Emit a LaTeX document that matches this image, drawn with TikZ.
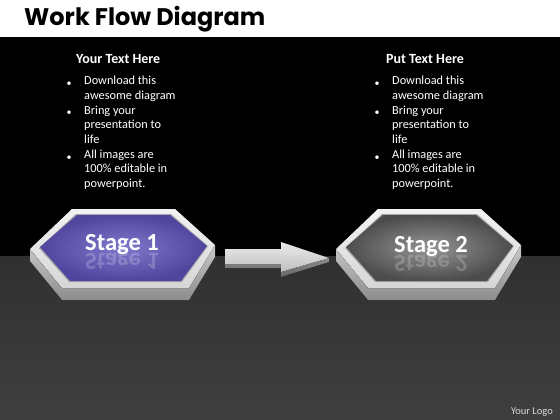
\documentclass[tikz,border=0pt]{standalone}
\usepackage{fontspec}
\setmainfont{Carlito}
\newfontfamily\titlefont{Poppins}
\definecolor{floortop}{HTML}{303030}
\definecolor{floorbot}{HTML}{3F3F3F}
\definecolor{frametop}{HTML}{F2F2F2}
\definecolor{framebot}{HTML}{D6D6D6}
\definecolor{sidec}{HTML}{B0B0B0}
\definecolor{purpin}{HTML}{8179CC}
\definecolor{purpout}{HTML}{4F459E}
\definecolor{grayin}{HTML}{959595}
\definecolor{grayout}{HTML}{4C4C4C}
\tikzset{
  head/.style={text=white, font=\fontsize{14}{16}\selectfont\bfseries, anchor=base west, inner sep=0pt},
  body/.style={text=white, font=\fontsize{12.3}{14.7}\selectfont, anchor=north west, align=left, inner sep=0pt},
  bul/.style={text=white, font=\fontsize{10}{12}\selectfont, anchor=base, inner sep=0pt},
  stagetxt/.style={text=white, font=\fontsize{24.5}{27}\selectfont\bfseries, anchor=base, inner sep=0pt},
  sideface/.style={top color=sidec!70!white, bottom color=sidec!80!black, draw=none},
  topface/.style={top color=frametop, bottom color=framebot, draw=none},
}
\newcommand{\hexblock}[3]{%
  \begin{scope}[xshift=#1pt]
    \fill[sideface] (30,249)--(62,288)--(189,288)--(215,245)--(215,257)--(189,300)--(62,300)--(30,261)--cycle;
    \fill[topface] (30,249)--(72,209)--(175,209)--(215,245)--(189,288)--(62,288)--cycle;
    \fill[black!35] (39,248)--(76,214)--(171,214)--(208,246)--(182,282)--(69,282)--cycle;
    \path[inner color=#2, outer color=#3] (40,247)--(77,215)--(170,215)--(207,246)--(181,281)--(70,281)--cycle;
  \end{scope}}
\begin{document}
\begin{tikzpicture}[x=1pt,y=-1pt]
\useasboundingbox (0,0) rectangle (560,420);
% backgrounds
\fill[white] (0,0) rectangle (560,37);
\fill[black] (0,37) rectangle (560,256);
\fill[top color=floortop, bottom color=floorbot] (0,256) rectangle (560,420);
% title
\node[text=black, font=\titlefont\bfseries\fontsize{24}{26}\selectfont, anchor=base west, inner sep=0pt] (title) at (24,26) {Work Flow Diagram};
% column 1
\node[head] (h1) at (76,64) {Your Text Here};
\node[body] (t1) at (84,76) {Download this\\awesome diagram\\Bring your\\presentation to\\life\\All images are\\100\% editable in\\powerpoint.};
\node[bul] (b11) at (69,87) {\textbullet};
\node[bul] (b12) at (69,116) {\textbullet};
\node[bul] (b13) at (69,160) {\textbullet};
% column 2
\node[head] (h2) at (386,64) {Put Text Here};
\node[body] (t2) at (392,76) {Download this\\awesome diagram\\Bring your\\presentation to\\life\\All images are\\100\% editable in\\powerpoint.};
\node[bul] (b21) at (377,87) {\textbullet};
\node[bul] (b22) at (377,116) {\textbullet};
\node[bul] (b23) at (377,160) {\textbullet};
% hexagons
\hexblock{0}{purpin}{purpout}
\hexblock{306}{grayin}{grayout}
% arrow
\fill[top color=black!45, bottom color=black!60] (225,264)--(281,264)--(281,272)--(329,258)--(329,262)--(281,277)--(281,268)--(225,268)--cycle;
\fill[top color=black!8, bottom color=black!25] (225,249)--(281,249)--(281,242)--(329,258)--(281,272)--(281,264)--(225,264)--cycle;
% stage labels
\node[stagetxt] (s1) at (122,250) {Stage 1};
\node[stagetxt] (s2) at (431,252) {Stage 2};
\begin{scope}[shift={(122,253)}, yscale=-1]
  \node[stagetxt, transform shape, opacity=0.2] (r1) at (0,0) {Stage 1};
\end{scope}
\begin{scope}[shift={(431,255)}, yscale=-1]
  \node[stagetxt, transform shape, opacity=0.2] (r2) at (0,0) {Stage 2};
\end{scope}
% logo
\node[text=white!85!black, font=\fontsize{10.5}{12}\selectfont, anchor=base east, inner sep=0pt] (logo) at (553,414) {Your Logo};
\end{tikzpicture}
\end{document}
